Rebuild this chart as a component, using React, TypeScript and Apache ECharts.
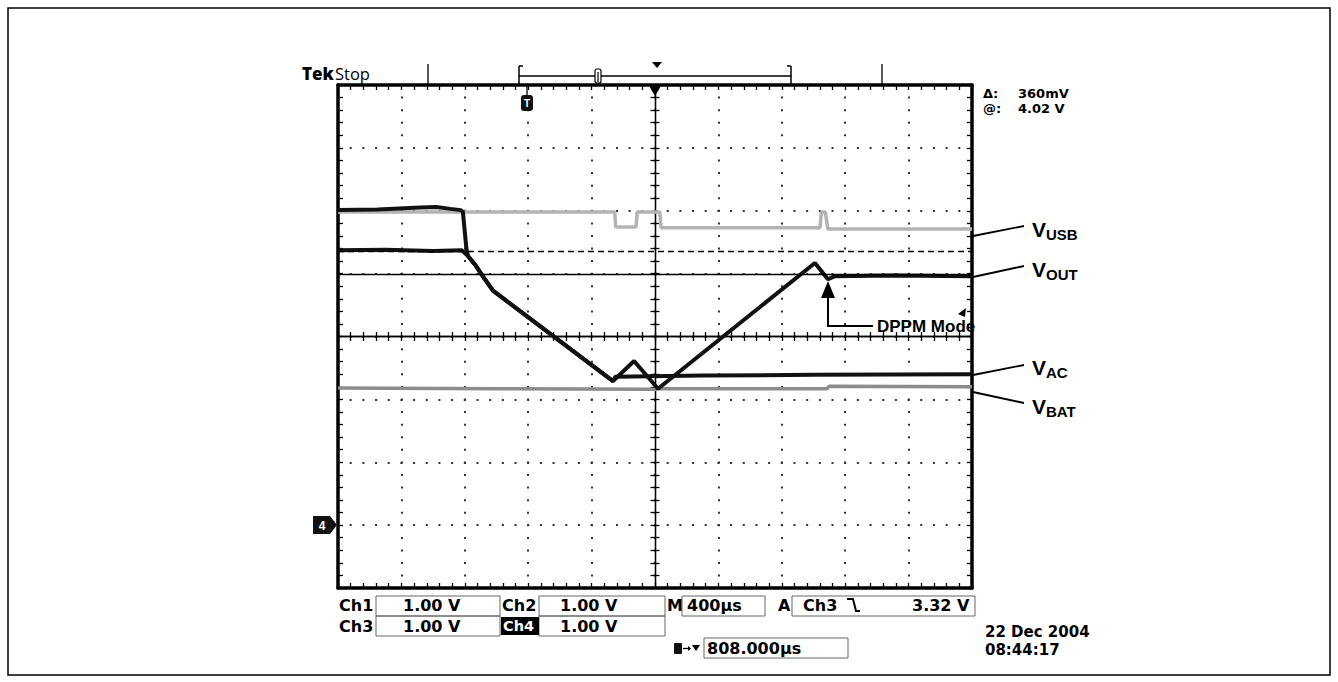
import React, { useEffect, useRef } from "react";
import * as echarts from "echarts";

// Time axis: µs relative to screen centre (400 µs/div, 10 divisions)
const X_MIN = -2000;
const X_MAX = 2000;
const X_STEP = 400;
// Vertical axis: divisions from screen centre (1.00 V/div, 8 divisions)
const Y_MIN = -4;
const Y_MAX = 4;
const Y_STEP = 1;

// V_USB (gray trace)
const VUSB_T = [-2000, -254, -248, -120, -112, 30, 38, 1041, 1050, 1075, 1090, 2000];
const VUSB_V = [1.98, 1.98, 1.74, 1.74, 1.98, 1.98, 1.73, 1.73, 1.98, 1.98, 1.71, 1.71];

// V_AC (dark trace)
const VAC_T = [-2000, -1750, -1480, -1380, -1290, -1225, -1212, -1190, -1180, -1129, -1073, -1022, -265, -250, 300, 1000, 2000];
const VAC_V = [2.01, 2.02, 2.05, 2.06, 2.03, 2.01, 1.98, 1.4, 1.28, 1.12, 0.91, 0.73, -0.71, -0.64, -0.62, -0.61, -0.6];

// V_OUT (dark trace)
const VOUT_T = [-2000, -1700, -1400, -1218, -1180, -1129, -1073, -1022, -265, -132, 19, 1009, 1091, 1136, 1500, 2000];
const VOUT_V = [1.37, 1.38, 1.36, 1.37, 1.28, 1.12, 0.91, 0.73, -0.71, -0.39, -0.83, 1.17, 0.91, 0.96, 0.97, 0.96];

// V_BAT (gray trace)
const VBAT_T = [-2000, -1000, 0, 20, 500, 1085, 1100, 2000];
const VBAT_V = [-0.82, -0.83, -0.84, -0.83, -0.83, -0.83, -0.79, -0.8];

// Horizontal cursors (divisions)
const CURSOR_SOLID = 0.99;
const CURSOR_DASHED = 1.36;

const pairs = (t: number[], v: number[]) => t.map((x, i) => [x, v[i]]);

const FONT = '"DejaVu Sans", "Open Sans", sans-serif';
const ARIAL = '"Liberation Sans", Arial, sans-serif';

const borderAxis = (position: string, withSplit: boolean, isX: boolean) => ({
  type: "value",
  position,
  min: isX ? X_MIN : Y_MIN,
  max: isX ? X_MAX : Y_MAX,
  interval: isX ? X_STEP : Y_STEP,
  axisLine: { show: true, onZero: false, lineStyle: { color: "#000", width: 3.5 } },
  axisTick: { show: true, inside: true, length: 5, lineStyle: { color: "#000", width: 1.3 } },
  minorTick: { show: true, splitNumber: 5, length: 5, lineStyle: { color: "#000", width: 1.3 } },
  axisLabel: { show: false },
  splitLine: withSplit
    ? {
        show: true,
        lineStyle: {
          color: "#333",
          width: 2,
          type: isX ? [2, 10.58] : [2, 10.68],
          dashOffset: 1,
        },
      }
    : { show: false },
});

const centerAxis = (position: string, inside: boolean, isX: boolean) => ({
  type: "value",
  position,
  min: isX ? X_MIN : Y_MIN,
  max: isX ? X_MAX : Y_MAX,
  interval: isX ? X_STEP : Y_STEP,
  axisLine: { show: true, onZero: true, onZeroAxisIndex: 0, lineStyle: { color: "#000", width: 1.3 } },
  axisTick: { show: true, inside, length: 4.5, lineStyle: { color: "#000", width: 1.3 } },
  minorTick: { show: true, splitNumber: 5, length: 4.5, lineStyle: { color: "#000", width: 1.3 } },
  axisLabel: { show: false },
  splitLine: { show: false },
});

const txt = (x: number, y: number, text: string, size: number, weight: string | number = "bold", family = FONT, fill = "#000", align = "left") => ({
  type: "text",
  x,
  y,
  z: 120,
  style: {
    text,
    fontSize: size,
    fontWeight: weight,
    fontFamily: family,
    fill,
    align,
    verticalAlign: "middle",
    textAlign: align,
    textVerticalAlign: "middle",
  },
});

const line = (x1: number, y1: number, x2: number, y2: number, w = 1.5, color = "#000") => ({
  type: "line",
  z: 110,
  shape: { x1, y1, x2, y2 },
  style: { stroke: color, lineWidth: w },
});

const box = (x: number, y: number, w: number, h: number, stroke = "#666") => ({
  type: "rect",
  z: 105,
  shape: { x, y, width: w, height: h },
  style: { fill: "none", stroke, lineWidth: 1 },
});

const label = (x: number, y: number, main: string, sub: string) => [
  txt(x, y, main, 21, "bold", ARIAL),
  txt(x + 14, y + 5, sub, 15, "bold", ARIAL),
];

const graphics: any[] = [
  // outer frame
  { type: "rect", z: 1, shape: { x: 8, y: 8, width: 1322, height: 667 }, style: { fill: "none", stroke: "#000", lineWidth: 1.5 } },
  // header
  txt(302, 73, "Tek", 17, 800, '"Open Sans", sans-serif'),
  txt(335, 73, "Stop", 16.5, 500, '"Open Sans", sans-serif'),
  line(428, 64, 428, 85, 1.3),
  line(882, 64, 882, 85, 1.3),
  line(519, 76, 791, 76, 1.3),
  line(519, 66, 519, 86, 1.5),
  line(791, 66, 791, 86, 1.5),
  line(519, 66, 523, 66, 1.5),
  line(791, 66, 787, 66, 1.5),
  { type: "rect", z: 110, shape: { x: 595, y: 69, width: 6, height: 14, r: 2 }, style: { fill: "#fff", stroke: "#000", lineWidth: 1.2 } },
  line(598, 72, 598, 82, 1.2),
  { type: "polygon", z: 110, shape: { points: [[652, 62], [662, 62], [657, 68]] }, style: { fill: "#000" } },
  // trigger position marker at top border centre
  { type: "polygon", z: 110, shape: { points: [[649, 86], [661, 86], [655, 96]] }, style: { fill: "#000" } },
  // trigger point marker
  line(527, 86, 527, 96, 1.3),
  { type: "rect", z: 110, shape: { x: 521, y: 95, width: 12, height: 16, r: 3 }, style: { fill: "#111" } },
  txt(527, 103.5, "T", 10, "bold", ARIAL, "#fff", "center"),
  // cursor readout
  txt(983, 93, "Δ:", 13),
  txt(1018, 93, "360mV", 13),
  txt(983, 108, "@:", 13),
  txt(1018, 108, "4.02 V", 13),
  // trigger level mark on right edge
  { type: "polygon", z: 110, shape: { points: [[958, 314], [966, 308], [965, 317]] }, style: { fill: "#000" } },
  // channel 4 ground marker
  { type: "polygon", z: 110, shape: { points: [[313, 516], [330, 516], [337, 525], [330, 534], [313, 534]] }, style: { fill: "#111" } },
  txt(322, 525.5, "4", 12, "bold", ARIAL, "#fff", "center"),
  // DPPM annotation
  { type: "polygon", z: 115, shape: { points: [[828, 281], [821, 298], [835, 298]] }, style: { fill: "#000" } },
  { type: "polyline", z: 115, shape: { points: [[828, 296], [828, 326], [873, 326]] }, style: { stroke: "#000", lineWidth: 2, fill: "none" } },
  txt(877, 326, "DPPM Mode", 17, "bold", ARIAL),
  // leader lines
  line(973, 236, 1024, 226, 1.8),
  line(973, 277, 1024, 266, 1.8),
  line(973, 375, 1024, 365, 1.8),
  line(973, 392, 1024, 403, 1.8),
  ...label(1032, 229, "V", "USB"),
  ...label(1032, 269, "V", "OUT"),
  ...label(1032, 367, "V", "AC"),
  ...label(1032, 406, "V", "BAT"),
  // bottom readouts row 1
  txt(339, 605, "Ch1", 16),
  box(376, 596, 124, 20),
  txt(403, 605, "1.00 V", 16),
  txt(502, 605, "Ch2", 16),
  box(539, 596, 126, 20),
  txt(560, 605, "1.00 V", 16),
  txt(667, 605, "M", 16),
  box(682, 596, 83, 20),
  txt(687, 605, "400µs", 16),
  txt(778, 605, "A", 16),
  box(792, 596, 183, 20),
  txt(803, 605, "Ch3", 16),
  { type: "polyline", z: 115, shape: { points: [[847, 599], [853, 599], [856, 611], [860, 611]] }, style: { stroke: "#000", lineWidth: 2, fill: "none" } },
  txt(912, 605, "3.32 V", 16),
  // row 2
  txt(339, 626, "Ch3", 16),
  box(376, 616, 124, 20),
  txt(403, 626, "1.00 V", 16),
  { type: "rect", z: 108, shape: { x: 501, y: 617, width: 38, height: 18 }, style: { fill: "#000" } },
  txt(503, 626, "Ch4", 14.5, "bold", FONT, "#fff"),
  box(539, 616, 126, 20),
  txt(560, 626, "1.00 V", 16),
  // row 3
  { type: "rect", z: 110, shape: { x: 674, y: 643, width: 8, height: 11, r: 1 }, style: { fill: "#111" } },
  line(683, 648.5, 690, 648.5, 1.3),
  { type: "polygon", z: 110, shape: { points: [[688, 646], [691, 648.5], [688, 651]] }, style: { fill: "#000" } },
  { type: "polygon", z: 110, shape: { points: [[692, 645], [700, 645], [696, 651]] }, style: { fill: "#000" } },
  box(704, 638, 144, 20),
  txt(707, 648, "808.000µs", 16),
  // date/time
  txt(985, 632, "22 Dec 2004", 15),
  txt(985, 650, "08:44:17", 15),
];

const option: any = {
  animation: false,
  backgroundColor: "#fff",
  grid: { left: 338, top: 85, width: 634, height: 503, containLabel: false },
  xAxis: [
    borderAxis("bottom", true, true),
    borderAxis("top", false, true),
    centerAxis("bottom", true, true),
    centerAxis("bottom", false, true),
  ],
  yAxis: [
    borderAxis("left", true, false),
    borderAxis("right", false, false),
    centerAxis("left", true, false),
    centerAxis("left", false, false),
  ],
  series: [
    {
      name: "VUSB",
      type: "line",
      data: pairs(VUSB_T, VUSB_V),
      showSymbol: false,
      z: 3,
      lineStyle: { color: "#b3b3b3", width: 3.5 },
    },
    {
      name: "VBAT",
      type: "line",
      data: pairs(VBAT_T, VBAT_V),
      showSymbol: false,
      z: 3,
      lineStyle: { color: "#8c8c8c", width: 3.5 },
    },
    {
      name: "VAC",
      type: "line",
      data: pairs(VAC_T, VAC_V),
      showSymbol: false,
      z: 4,
      lineStyle: { color: "#111", width: 4 },
    },
    {
      name: "VOUT",
      type: "line",
      data: pairs(VOUT_T, VOUT_V),
      showSymbol: false,
      z: 4,
      lineStyle: { color: "#111", width: 4 },
      markLine: {
        silent: true,
        symbol: "none",
        label: { show: false },
        data: [
          { yAxis: CURSOR_SOLID, lineStyle: { color: "#000", width: 1.4, type: "solid" } },
          { yAxis: CURSOR_DASHED, lineStyle: { color: "#000", width: 1.4, type: [6, 4] } },
        ],
      },
    },
  ],
  graphic: graphics,
};

export default function App() {
  const ref = useRef<HTMLDivElement>(null);
  useEffect(() => {
    const chart = echarts.init(ref.current as HTMLDivElement, null, { renderer: "svg" });
    chart.setOption(option);
    return () => chart.dispose();
  }, []);
  return (
    <div
      ref={ref}
      style={{ position: "fixed", left: 0, top: 0, width: 1338, height: 682, background: "#fff" }}
    />
  );
}
